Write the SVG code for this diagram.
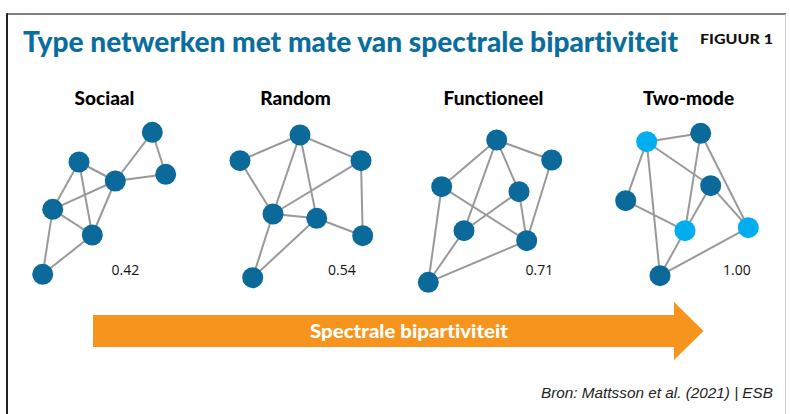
<svg xmlns="http://www.w3.org/2000/svg" width="790" height="414" viewBox="0 0 790 414">
<style>
text{font-variant-ligatures:none}
.edge{stroke:#999;stroke-width:2;fill:none}
.dk{fill:#0b6a9a}
.lt{fill:#00aeef}
.sub{font-family:Lato,"Liberation Sans",sans-serif;font-weight:900;font-size:19px;fill:#000;text-anchor:middle}
.val{font-family:"Open Sans","Liberation Sans",sans-serif;font-size:14px;fill:#111}
</style>
<rect width="790" height="414" fill="#fff"/>
<g id="frame">
<line x1="7" y1="14" x2="786" y2="14" stroke="#555" stroke-width="1.5"/>
<line x1="7" y1="13.3" x2="7" y2="414" stroke="#222" stroke-width="2"/>
<line x1="785.5" y1="14" x2="785.5" y2="414" stroke="#ccc" stroke-width="1"/>
</g>
<g id="title">
<text x="23" y="52" font-family="Lato,'Liberation Sans',sans-serif" font-weight="900" font-size="29" fill="#0b6d9e" textLength="655" lengthAdjust="spacingAndGlyphs">Type netwerken met mate van spectrale bipartiviteit</text>
<text x="700" y="44" font-family="Lato,'Liberation Sans',sans-serif" font-weight="900" font-size="13.5" fill="#111" textLength="73" lengthAdjust="spacingAndGlyphs">FIGUUR 1</text>
</g>
<g id="subtitles">
<text class="sub" x="104.5" y="105">Sociaal</text>
<text class="sub" x="295.5" y="105">Random</text>
<text class="sub" x="493.5" y="105">Functioneel</text>
<text class="sub" x="688.5" y="105">Two-mode</text>
</g>
<g id="connectors">
<g id="edges-sociaal">
<line class="edge" x1="152.3" y1="132.3" x2="115.3" y2="181"/>
<line class="edge" x1="152.3" y1="132.3" x2="165.7" y2="174.3"/>
<line class="edge" x1="115.3" y1="181" x2="165.7" y2="174.3"/>
<line class="edge" x1="79" y1="162" x2="115.3" y2="181"/>
<line class="edge" x1="79" y1="162" x2="52.7" y2="209.3"/>
<line class="edge" x1="79" y1="162" x2="92.3" y2="235"/>
<line class="edge" x1="52.7" y1="209.3" x2="115.3" y2="181"/>
<line class="edge" x1="52.7" y1="209.3" x2="92.3" y2="235"/>
<line class="edge" x1="92.3" y1="235" x2="115.3" y2="181"/>
<line class="edge" x1="52.7" y1="209.3" x2="42.7" y2="274.3"/>
<line class="edge" x1="42.7" y1="274.3" x2="92.3" y2="235"/>
</g>
<g id="edges-random">
<line class="edge" x1="240" y1="160.7" x2="300" y2="135"/>
<line class="edge" x1="300" y1="135" x2="361" y2="160.7"/>
<line class="edge" x1="240" y1="160.7" x2="273" y2="214"/>
<line class="edge" x1="300" y1="135" x2="273" y2="214"/>
<line class="edge" x1="300" y1="135" x2="316.7" y2="218.3"/>
<line class="edge" x1="361" y1="160.7" x2="273" y2="214"/>
<line class="edge" x1="361" y1="160.7" x2="362.7" y2="235.7"/>
<line class="edge" x1="273" y1="214" x2="316.7" y2="218.3"/>
<line class="edge" x1="316.7" y1="218.3" x2="362.7" y2="235.7"/>
<line class="edge" x1="273" y1="214" x2="252.7" y2="277.7"/>
<line class="edge" x1="252.7" y1="277.7" x2="316.7" y2="218.3"/>
</g>
<g id="edges-functioneel">
<line class="edge" x1="441.7" y1="186.7" x2="496.7" y2="140"/>
<line class="edge" x1="496.7" y1="140" x2="551.7" y2="160"/>
<line class="edge" x1="496.7" y1="140" x2="464" y2="230.7"/>
<line class="edge" x1="496.7" y1="140" x2="519" y2="191.7"/>
<line class="edge" x1="441.7" y1="186.7" x2="526.7" y2="240.7"/>
<line class="edge" x1="441.7" y1="186.7" x2="428.3" y2="282.3"/>
<line class="edge" x1="519" y1="191.7" x2="464" y2="230.7"/>
<line class="edge" x1="519" y1="191.7" x2="526.7" y2="240.7"/>
<line class="edge" x1="551.7" y1="160" x2="526.7" y2="240.7"/>
<line class="edge" x1="464" y1="230.7" x2="428.3" y2="282.3"/>
<line class="edge" x1="428.3" y1="282.3" x2="526.7" y2="240.7"/>
</g>
<g id="edges-twomode">
<line class="edge" x1="646.7" y1="141.7" x2="700.7" y2="133.3"/>
<line class="edge" x1="646.7" y1="141.7" x2="625.7" y2="200.7"/>
<line class="edge" x1="646.7" y1="141.7" x2="710.7" y2="185.7"/>
<line class="edge" x1="646.7" y1="141.7" x2="660" y2="275.7"/>
<line class="edge" x1="700.7" y1="133.3" x2="685" y2="230.7"/>
<line class="edge" x1="700.7" y1="133.3" x2="748.3" y2="227.7"/>
<line class="edge" x1="710.7" y1="185.7" x2="685" y2="230.7"/>
<line class="edge" x1="710.7" y1="185.7" x2="748.3" y2="227.7"/>
<line class="edge" x1="625.7" y1="200.7" x2="685" y2="230.7"/>
<line class="edge" x1="685" y1="230.7" x2="660" y2="275.7"/>
<line class="edge" x1="660" y1="275.7" x2="748.3" y2="227.7"/>
</g>
</g>
<g id="net-sociaal">
<circle id="s1" class="dk" cx="152.3" cy="132.3" r="10.5"/>
<circle id="s2" class="dk" cx="165.7" cy="174.3" r="10.5"/>
<circle id="s3" class="dk" cx="115.3" cy="181" r="10.5"/>
<circle id="s4" class="dk" cx="79" cy="162" r="10.5"/>
<circle id="s5" class="dk" cx="52.7" cy="209.3" r="10.5"/>
<circle id="s6" class="dk" cx="92.3" cy="235" r="10.5"/>
<circle id="s7" class="dk" cx="42.7" cy="274.3" r="10.5"/>
<text class="val" x="111.5" y="275">0.42</text>
</g>
<g id="net-random">
<circle id="r1" class="dk" cx="300" cy="135" r="10.5"/>
<circle id="r2" class="dk" cx="240" cy="160.7" r="10.5"/>
<circle id="r3" class="dk" cx="361" cy="160.7" r="10.5"/>
<circle id="r4" class="dk" cx="273" cy="214" r="10.5"/>
<circle id="r5" class="dk" cx="316.7" cy="218.3" r="10.5"/>
<circle id="r6" class="dk" cx="362.7" cy="235.7" r="10.5"/>
<circle id="r7" class="dk" cx="252.7" cy="277.7" r="10.5"/>
<text class="val" x="328" y="275">0.54</text>
</g>
<g id="net-functioneel">
<circle id="f1" class="dk" cx="496.7" cy="140" r="10.5"/>
<circle id="f2" class="dk" cx="551.7" cy="160" r="10.5"/>
<circle id="f3" class="dk" cx="441.7" cy="186.7" r="10.5"/>
<circle id="f4" class="dk" cx="519" cy="191.7" r="10.5"/>
<circle id="f5" class="dk" cx="464" cy="230.7" r="10.5"/>
<circle id="f6" class="dk" cx="526.7" cy="240.7" r="10.5"/>
<circle id="f7" class="dk" cx="428.3" cy="282.3" r="10.5"/>
<text class="val" x="525.5" y="275">0.71</text>
</g>
<g id="net-twomode">
<circle id="t1" class="lt" cx="646.7" cy="141.7" r="10.5"/>
<circle id="t2" class="dk" cx="700.7" cy="133.3" r="10.5"/>
<circle id="t3" class="dk" cx="710.7" cy="185.7" r="10.5"/>
<circle id="t4" class="dk" cx="625.7" cy="200.7" r="10.5"/>
<circle id="t5" class="lt" cx="685" cy="230.7" r="10.5"/>
<circle id="t6" class="lt" cx="748.3" cy="227.7" r="10.5"/>
<circle id="t7" class="dk" cx="660" cy="275.7" r="10.5"/>
<text class="val" x="723" y="275">1.00</text>
</g>
<g id="arrow">
<polygon points="93,315 674,315 674,302 703.5,331 674,360 674,347 93,347" fill="#f7941d"/>
<text x="409" y="337.5" text-anchor="middle" font-family="Lato,'Liberation Sans',sans-serif" font-weight="900" font-size="19" fill="#fff" textLength="198" lengthAdjust="spacingAndGlyphs">Spectrale bipartiviteit</text>
</g>
<g id="source">
<text x="773" y="398" text-anchor="end" font-family="'Liberation Sans',sans-serif" font-style="italic" font-size="15" fill="#222" textLength="232" lengthAdjust="spacingAndGlyphs">Bron: Mattsson et al. (2021) | ESB</text>
</g>
</svg>
